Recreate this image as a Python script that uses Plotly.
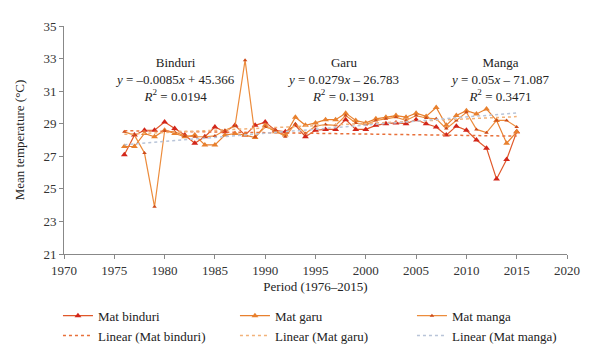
import plotly.graph_objects as go

years = list(range(1976, 2016))

mat_binduri = [27.1, 28.3, 28.6, 28.6, 29.1, 28.7, 28.3, 27.8, 28.2, 28.8,
               28.5, 28.9, 28.3, 28.9, 29.1, 28.6, 28.5, 28.9, 28.2, 28.6,
               28.65, 28.65, 29.25, 28.65, 28.65, 28.9, 29.0, 29.05, 29.0, 29.25,
               29.0, 28.8, 28.3, 28.85, 28.6, 28.0, 27.5, 25.6, 26.8, 28.5]

mat_garu = [27.6, 27.6, 28.4, 28.2, 28.6, 28.4, 28.2, 28.3, 27.7, 27.7,
            28.3, 28.4, 28.3, 28.15, 28.9, 28.5, 28.3, 29.4, 28.9, 29.05,
            29.25, 29.25, 29.65, 29.2, 29.05, 29.3, 29.4, 29.5, 29.4, 29.65,
            29.45, 30.0, 28.9, 29.5, 29.8, 29.6, 29.9, 29.2, 27.8, 28.5]

mat_manga = [28.5, 28.3, 27.2, 23.9, 28.55, 28.5, 28.25, 28.2, 28.2, 28.25,
             28.6, 28.85, 32.9, 28.2, 28.8, 28.6, 28.2, 29.0, 28.4, 28.85,
             28.95, 28.9, 29.5, 29.05, 28.95, 29.2, 29.3, 29.4, 29.2, 29.5,
             29.35, 29.3, 28.7, 29.2, 29.7, 28.65, 28.45, 29.2, 29.2, 28.8]

# trend equations shown on the chart: slope, intercept, R^2
trend_binduri = (-0.0085, 45.366, 0.0194)
trend_garu = (0.0279, -26.783, 0.1391)
trend_manga = (0.05, -71.087, 0.3471)

FONT = "Liberation Serif"

fig = go.Figure()

fig.add_trace(go.Scatter(x=years, y=mat_binduri, mode="lines+markers", name="Mat binduri",
                         line=dict(color="#e0582a", width=1.2),
                         marker=dict(symbol="triangle-up", size=6, color="#d2261a")))
fig.add_trace(go.Scatter(x=years, y=mat_garu, mode="lines+markers", name="Mat garu",
                         line=dict(color="#e8802e", width=1.2),
                         marker=dict(symbol="triangle-up", size=6, color="#e8802e")))
fig.add_trace(go.Scatter(x=years, y=mat_manga, mode="lines+markers", name="Mat manga",
                         line=dict(color="#ec8c3c", width=1.2),
                         marker=dict(symbol="triangle-up", size=4, color="#cc4a1a")))

def trend(t):
    return [t[0] * yr + t[1] for yr in years]

fig.add_trace(go.Scatter(x=years, y=trend(trend_binduri), mode="lines", name="Linear (Mat binduri)",
                         line=dict(color="#e8703a", width=1.5, dash="dot")))
fig.add_trace(go.Scatter(x=years, y=trend(trend_garu), mode="lines", name="Linear (Mat garu)",
                         line=dict(color="#f2b27a", width=1.5, dash="dot")))
fig.add_trace(go.Scatter(x=years, y=trend(trend_manga), mode="lines", name="Linear (Mat manga)",
                         line=dict(color="#b8c4d8", width=1.5, dash="dot")))

def eq_text(name, t):
    sign = "+" if t[1] >= 0 else "–"
    slope = f"–{abs(t[0])}" if t[0] < 0 else f"{t[0]}"
    return (f"{name}<br><i>y</i> = {slope}<i>x</i> {sign} {abs(t[1])}"
            f"<br><i>R</i><sup>2</sup> = {t[2]}")

for name, t, xc in [("Binduri", trend_binduri, 1981.0),
                    ("Garu", trend_garu, 1997.7),
                    ("Manga", trend_manga, 2013.3)]:
    fig.add_annotation(x=xc, y=33.37, xref="x", yref="y", text=eq_text(name, t),
                       showarrow=False, yanchor="top", align="center",
                       font=dict(family=FONT, size=13, color="#222"))

axis_common = dict(showgrid=False, zeroline=False, showline=True, linecolor="#888",
                   linewidth=1, ticks="outside", ticklen=4, tickcolor="#888",
                   automargin=False,
                   tickfont=dict(family=FONT, size=13, color="#333"))

fig.update_xaxes(range=[1970, 2020], dtick=5, tick0=1970,
                 title=dict(text="Period (1976–2015)", font=dict(family=FONT, size=13, color="#222"),
                            standoff=5),
                 **axis_common)
fig.update_yaxes(range=[21, 35], dtick=2, tick0=21,
                 title=dict(text="Mean temperature (°C)", font=dict(family=FONT, size=13, color="#222"),
                            standoff=15),
                 **axis_common)

fig.update_layout(
    width=600, height=361,
    margin=dict(l=56, r=41, t=18, b=115, autoexpand=False),
    plot_bgcolor="white", paper_bgcolor="white",
    font=dict(family=FONT, size=13, color="#222"),
    legend=dict(orientation="h", x=-0.012, xanchor="left", y=-0.205, yanchor="top",
                entrywidth=132, entrywidthmode="pixels", tracegroupgap=0,
                font=dict(family=FONT, size=13, color="#222"), itemwidth=30),
    showlegend=True,
)

fig.write_html("out.html")
